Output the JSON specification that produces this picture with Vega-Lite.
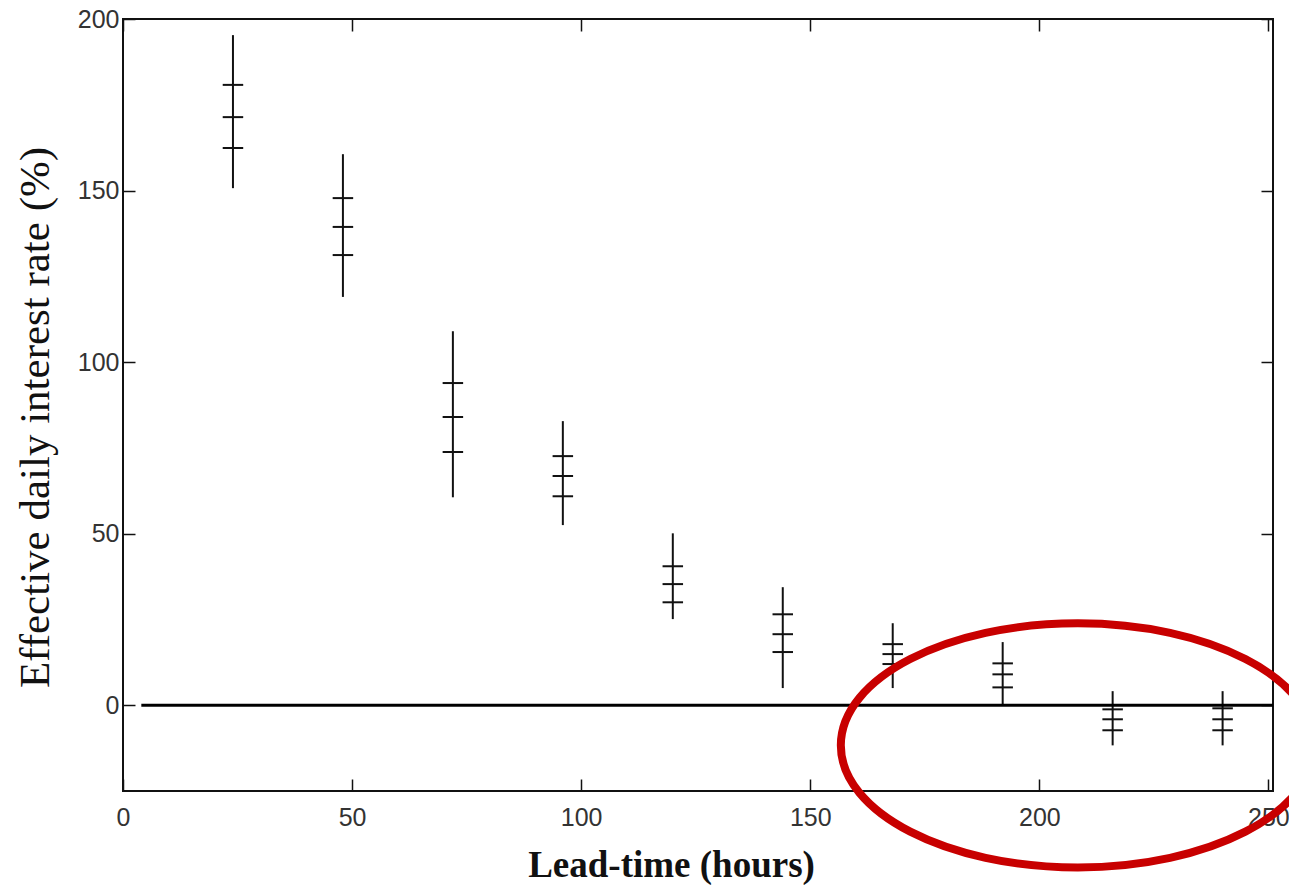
{
  "$schema": "https://vega.github.io/schema/vega-lite/v6.json",
  "width": 1150,
  "height": 772,
  "autosize": {"type": "none"},
  "padding": {"left": 123, "top": 19, "right": 16, "bottom": 94},
  "background": "white",
  "config": {
    "view": {"stroke": "#111", "strokeWidth": 2},
    "axis": {"domain": false, "grid": false, "tickColor": "#111", "tickWidth": 1.5, "tickSize": -12,
      "labelFont": "Liberation Sans", "labelFontSize": 25, "labelColor": "#333"}
  },
  "datasets": {
    "bars": [
      {"lead": 24, "lo": 150.7, "q1": 162.4, "med": 171.4, "q3": 180.8, "hi": 195.3},
      {"lead": 48, "lo": 119.0, "q1": 131.2, "med": 139.4, "q3": 147.8, "hi": 160.6},
      {"lead": 72, "lo": 60.6, "q1": 73.8, "med": 84.0, "q3": 93.9, "hi": 109.0},
      {"lead": 96, "lo": 52.5, "q1": 60.9, "med": 66.8, "q3": 72.6, "hi": 82.8},
      {"lead": 120, "lo": 25.1, "q1": 30.0, "med": 35.3, "q3": 40.5, "hi": 50.1},
      {"lead": 144, "lo": 5.0, "q1": 15.5, "med": 20.7, "q3": 26.5, "hi": 34.4},
      {"lead": 168, "lo": 5.0, "q1": 12.0, "med": 14.9, "q3": 17.8, "hi": 23.9},
      {"lead": 192, "lo": 0.0, "q1": 5.2, "med": 9.0, "q3": 12.2, "hi": 18.4},
      {"lead": 216, "lo": -11.7, "q1": -7.3, "med": -4.1, "q3": -1.2, "hi": 4.1},
      {"lead": 240, "lo": -11.7, "q1": -7.3, "med": -4.1, "q3": -0.9, "hi": 4.1}
    ],
    "zero": [{"x0": 4, "x1": 251, "y": 0}],
    "mark": [{"cx": 208.4, "cy": -11.7}]
  },
  "resolve": {"axis": {"x": "independent", "y": "independent"}},
  "layer": [
    {
      "data": {"name": "bars"},
      "mark": {"type": "rule", "color": "#111", "strokeWidth": 2},
      "encoding": {
        "x": {"field": "lead", "type": "quantitative", "scale": {"domain": [0, 251], "nice": false, "zero": false},
          "axis": {"orient": "bottom", "values": [0, 50, 100, 150, 200, 250], "labelPadding": 26, "labelFlush": false,
            "title": "Lead-time (hours)", "titleFont": "Liberation Serif", "titleFontSize": 37, "titleFontWeight": "bold", "titleColor": "#111",
            "titleX": 548, "titleY": 74, "titleAlign": "center", "titleBaseline": "middle", "titleAnchor": null}},
        "y": {"field": "lo", "type": "quantitative", "scale": {"domain": [-25, 200], "nice": false, "zero": false},
          "axis": {"orient": "left", "values": [0, 50, 100, 150, 200], "labelPadding": 16, "labelFlush": false,
            "title": "Effective daily interest rate (%)", "titleFont": "Liberation Serif", "titleFontSize": 43, "titleFontWeight": "normal", "titleColor": "#111",
            "titleX": -88, "titleY": 398, "titleAlign": "center", "titleBaseline": "middle", "titleAnchor": null, "titleAngle": -90}},
        "y2": {"field": "hi"}
      }
    },
    {
      "data": {"name": "bars"},
      "transform": [{"fold": ["q1", "med", "q3"], "as": ["stat", "val"]}],
      "mark": {"type": "point", "shape": "stroke", "size": 420, "stroke": "#111", "strokeWidth": 2, "filled": false, "opacity": 1},
      "encoding": {
        "x": {"field": "lead", "type": "quantitative",
          "axis": {"orient": "top", "values": [0, 50, 100, 150, 200, 250], "labels": false, "title": null}},
        "y": {"field": "val", "type": "quantitative",
          "axis": {"orient": "right", "values": [0, 50, 100, 150, 200], "labels": false, "title": null}}
      }
    },
    {
      "data": {"name": "zero"},
      "mark": {"type": "rule", "color": "#000", "strokeWidth": 3},
      "encoding": {
        "x": {"field": "x0", "type": "quantitative", "axis": null},
        "x2": {"field": "x1"},
        "y": {"field": "y", "type": "quantitative", "axis": null}
      }
    },
    {
      "data": {"name": "mark"},
      "mark": {"type": "point", "shape": "M -1 0 A 1 0.515 0 1 0 1 0 A 1 0.515 0 1 0 -1 0 Z", "size": 224676,
        "stroke": "#c80000", "strokeWidth": 8, "filled": false, "opacity": 1, "clip": false},
      "encoding": {
        "x": {"field": "cx", "type": "quantitative", "axis": null},
        "y": {"field": "cy", "type": "quantitative", "axis": null}
      }
    }
  ]
}
